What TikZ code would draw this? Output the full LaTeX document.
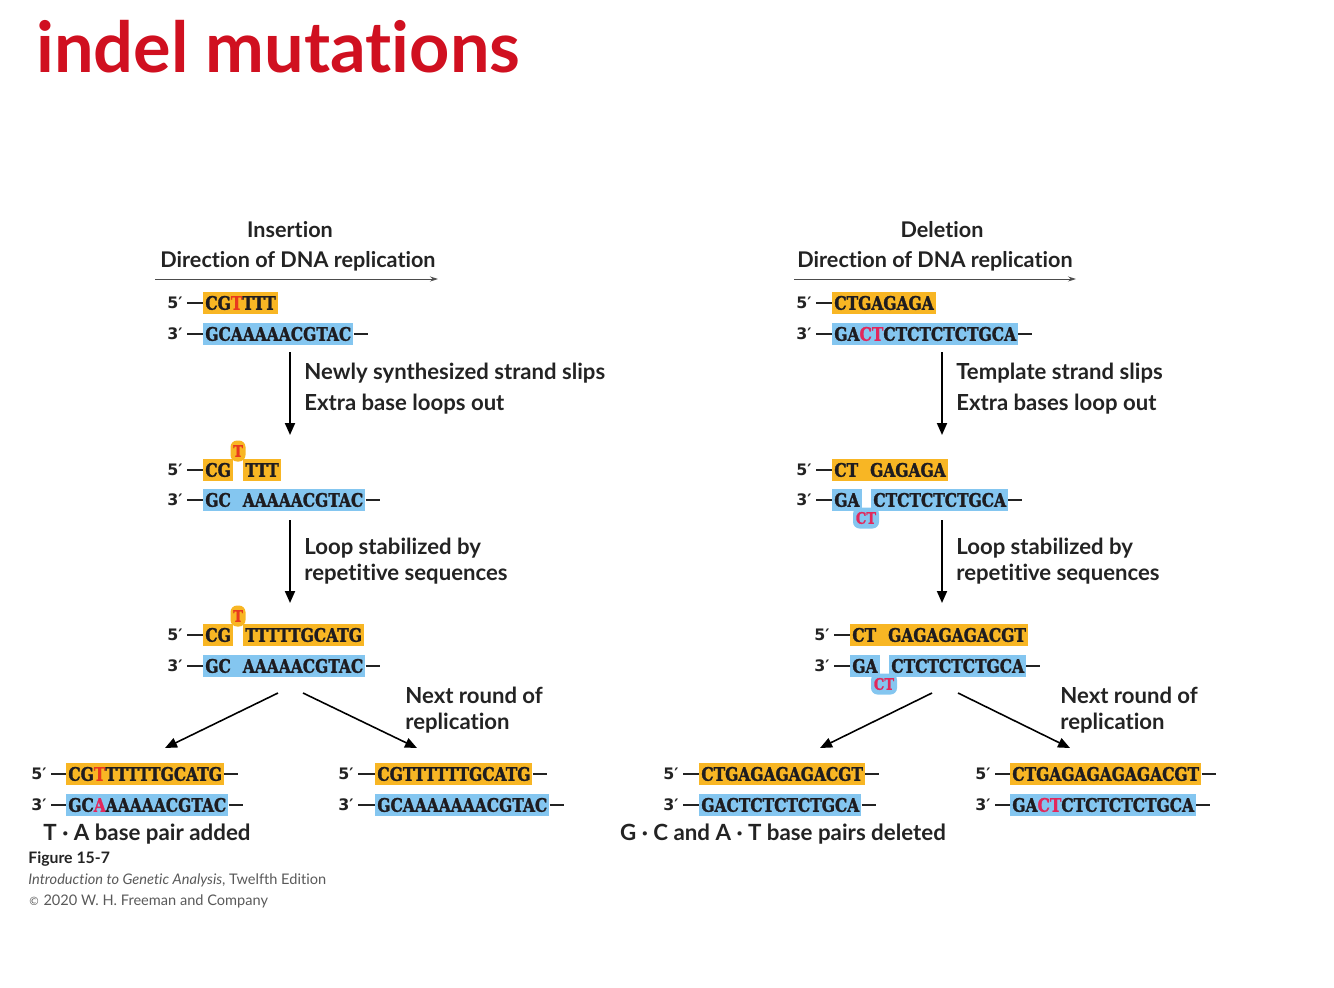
\documentclass[tikz,border=0pt]{standalone}
\usepackage{fontspec}
\setmainfont{Lato}[Ligatures=NoCommon]
\newfontfamily\seqfont{DejaVu Serif}[FakeStretch=0.83, FakeBold=1.5]
\newfontfamily\primefont{DejaVu Sans}
\usetikzlibrary{arrows.meta}

\definecolor{fwdfill}{RGB}{248,182,36}
\definecolor{revfill}{RGB}{132,198,240}
\definecolor{seqink}{RGB}{30,28,32}
\definecolor{insred}{RGB}{232,58,30}
\definecolor{delred}{RGB}{226,40,92}
\definecolor{titlered}{RGB}{208,16,32}
\definecolor{inkgray}{RGB}{35,35,35}

\newcommand{\insbase}[1]{\textcolor{insred}{#1}}
\newcommand{\delbase}[1]{\textcolor{delred}{#1}}

\begin{document}
\begin{tikzpicture}[
      x=0.02cm, y=-0.02cm,
      fwd/.style={anchor=west, fill=fwdfill, inner xsep=0.04cm, inner ysep=0pt, minimum height=0.44cm,
        text height=0.27cm, text depth=0pt, text=seqink, font=\seqfont\bfseries\fontsize{10.6}{12}\selectfont},
      rev/.style={fwd, fill=revfill},
      bulgeF/.style={fill=fwdfill, rounded corners=0.13cm, minimum width=0.3cm, minimum height=0.42cm,
        inner sep=0pt, text=insred, font=\seqfont\bfseries\fontsize{9}{10}\selectfont},
      bulgeR/.style={bulgeF, fill=revfill, text=delred, minimum width=0.52cm},
      endlbl/.style={anchor=east, inner sep=0pt, text=inkgray, font=\primefont\bfseries\fontsize{9}{10}\selectfont},
      tail/.style={line width=0.8pt, inkgray},
      heading/.style={font=\bfseries\fontsize{12.3}{15}\selectfont, text=inkgray},
      note/.style={anchor=west, align=left, inner sep=0pt, text=inkgray, font=\bfseries\fontsize{12.6}{15}\selectfont},
      result/.style={font=\bfseries\fontsize{12.7}{15}\selectfont, text=inkgray},
      dirarrow/.style={-{Stealth[length=0.16cm, width=0.1cm]}, line width=0.5pt, black!70},
      flow/.style={-{Triangle[length=0.24cm, width=0.2cm]}, line width=1.1pt, black}
    ]
    \useasboundingbox (0,0) rectangle (1334,987);

    \node[anchor=west, inner sep=0pt, text=titlered, font=\bfseries\fontsize{40}{44}\selectfont] (title) at (36,47) {indel mutations};

    % insertion column
    \node[heading] (insHead) at (290,230) {Insertion};
    \node[heading] (insDir) at (298,261) {Direction of DNA replication};
    \coordinate (insDirA) at (155,279);
    \coordinate (insDirB) at (438,279);
    \draw[dirarrow] (insDirA) -- (insDirB);

    \node[endlbl] (i1l5) at (183,303) {5′};
    \node[endlbl] (i1l3) at (183,334) {3′};
    \node[fwd] (i1t) at (203,303) {CG\insbase{T}TTT};
    \node[rev] (i1b) at (203,334) {GCAAAAACGTAC};
    \draw[tail] (i1l5.east) ++(4,0) -- (i1t.west);
    \draw[tail] (i1l3.east) ++(4,0) -- (i1b.west);
    \draw[tail] (i1b.east) -- ++(14,0);

    \coordinate (insA1) at (290,352);
    \coordinate (insA2) at (290,435);
    \draw[flow] (insA1) -- (insA2);
    \node[note] (insNote1) at (304,389) {Newly synthesized strand slips\\[2.6pt]Extra base loops out};

    \node[bulgeF] (i2bulge) at (238,451) {T};
    \node[endlbl] (i2l5) at (183,470) {5′};
    \node[endlbl] (i2l3) at (183,500) {3′};
    \node[fwd] (i2ta) at (203,470) {CG};
    \node[fwd] (i2tb) at (243,470) {TTT};
    \node[rev] (i2b) at (203,500) {GC\phantom{A}AAAAACGTAC};
    \draw[tail] (i2l5.east) ++(4,0) -- (i2ta.west);
    \draw[tail] (i2l3.east) ++(4,0) -- (i2b.west);
    \draw[tail] (i2b.east) -- ++(14,0);

    \coordinate (insB1) at (290,520);
    \coordinate (insB2) at (290,603);
    \draw[flow] (insB1) -- (insB2);
    \node[note] (insNote2) at (304,561) {Loop stabilized by\\repetitive sequences};

    \node[bulgeF] (i3bulge) at (238,616) {T};
    \node[endlbl] (i3l5) at (183,635) {5′};
    \node[endlbl] (i3l3) at (183,666) {3′};
    \node[fwd] (i3ta) at (203,635) {CG};
    \node[fwd] (i3tb) at (243,635) {TTTTTGCATG};
    \node[rev] (i3b) at (203,666) {GC\phantom{A}AAAAACGTAC};
    \draw[tail] (i3l5.east) ++(4,0) -- (i3ta.west);
    \draw[tail] (i3l3.east) ++(4,0) -- (i3b.west);
    \draw[tail] (i3b.east) -- ++(14,0);

    \coordinate (insC0) at (278,693);
    \coordinate (insC1) at (165,748);
    \coordinate (insD0) at (303,693);
    \coordinate (insD1) at (417,748);
    \draw[flow, line width=0.9pt] (insC0) -- (insC1);
    \draw[flow, line width=0.9pt] (insD0) -- (insD1);
    \node[note] (insNote3) at (405,710) {Next round of\\replication};

    \node[endlbl] (i4l5) at (47,774) {5′};
    \node[endlbl] (i4l3) at (47,805) {3′};
    \node[fwd] (i4t) at (66,774) {CG\insbase{T}TTTTTGCATG};
    \node[rev] (i4b) at (66,805) {GC\delbase{A}AAAAACGTAC};
    \draw[tail] (i4l5.east) ++(4,0) -- (i4t.west);
    \draw[tail] (i4l3.east) ++(4,0) -- (i4b.west);
    \draw[tail] (i4t.east) -- ++(14,0);
    \draw[tail] (i4b.east) -- ++(14,0);
    \node[result] (insResult) at (147,834) {T · A base pair added};

    \node[endlbl] (i5l5) at (354,774) {5′};
    \node[endlbl] (i5l3) at (354,805) {3′};
    \node[fwd] (i5t) at (375,774) {CGTTTTTTGCATG};
    \node[rev] (i5b) at (375,805) {GCAAAAAAACGTAC};
    \draw[tail] (i5l5.east) ++(4,0) -- (i5t.west);
    \draw[tail] (i5l3.east) ++(4,0) -- (i5b.west);
    \draw[tail] (i5t.east) -- ++(14,0);
    \draw[tail] (i5b.east) -- ++(14,0);

    % deletion column
    \node[heading] (delHead) at (942,230) {Deletion};
    \node[heading] (delDir) at (935,261) {Direction of DNA replication};
    \coordinate (delDirA) at (794,279);
    \coordinate (delDirB) at (1076,279);
    \draw[dirarrow] (delDirA) -- (delDirB);

    \node[endlbl] (d1l5) at (812,303) {5′};
    \node[endlbl] (d1l3) at (812,334) {3′};
    \node[fwd] (d1t) at (832,303) {CTGAGAGA};
    \node[rev] (d1b) at (832,334) {GA\delbase{CT}CTCTCTCTGCA};
    \draw[tail] (d1l5.east) ++(4,0) -- (d1t.west);
    \draw[tail] (d1l3.east) ++(4,0) -- (d1b.west);
    \draw[tail] (d1b.east) -- ++(14,0);

    \coordinate (delA1) at (942,352);
    \coordinate (delA2) at (942,435);
    \draw[flow] (delA1) -- (delA2);
    \node[note] (delNote1) at (956,389) {Template strand slips\\[2.6pt]Extra bases loop out};

    \node[bulgeR] (d2bulge) at (866,518) {CT};
    \node[endlbl] (d2l5) at (812,470) {5′};
    \node[endlbl] (d2l3) at (812,500) {3′};
    \node[fwd] (d2t) at (832,470) {CT\phantom{A}GAGAGA};
    \node[rev] (d2ba) at (832,500) {GA};
    \node[rev] (d2bb) at (871,500) {CTCTCTCTGCA};
    \draw[tail] (d2l5.east) ++(4,0) -- (d2t.west);
    \draw[tail] (d2l3.east) ++(4,0) -- (d2ba.west);
    \draw[tail] (d2bb.east) -- ++(14,0);

    \coordinate (delB1) at (942,520);
    \coordinate (delB2) at (942,603);
    \draw[flow] (delB1) -- (delB2);
    \node[note] (delNote2) at (956,561) {Loop stabilized by\\repetitive sequences};

    \node[bulgeR] (d3bulge) at (884,684) {CT};
    \node[endlbl] (d3l5) at (830,635) {5′};
    \node[endlbl] (d3l3) at (830,666) {3′};
    \node[fwd] (d3t) at (850,635) {CT\phantom{A}GAGAGAGACGT};
    \node[rev] (d3ba) at (850,666) {GA};
    \node[rev] (d3bb) at (889,666) {CTCTCTCTGCA};
    \draw[tail] (d3l5.east) ++(4,0) -- (d3t.west);
    \draw[tail] (d3l3.east) ++(4,0) -- (d3ba.west);
    \draw[tail] (d3bb.east) -- ++(14,0);

    \coordinate (delC0) at (932,693);
    \coordinate (delC1) at (820,748);
    \coordinate (delD0) at (958,693);
    \coordinate (delD1) at (1070,748);
    \draw[flow, line width=0.9pt] (delC0) -- (delC1);
    \draw[flow, line width=0.9pt] (delD0) -- (delD1);
    \node[note] (delNote3) at (1060,710) {Next round of\\replication};

    \node[endlbl] (d4l5) at (679,774) {5′};
    \node[endlbl] (d4l3) at (679,805) {3′};
    \node[fwd] (d4t) at (699,774) {CTGAGAGAGACGT};
    \node[rev] (d4b) at (699,805) {GACTCTCTCTGCA};
    \draw[tail] (d4l5.east) ++(4,0) -- (d4t.west);
    \draw[tail] (d4l3.east) ++(4,0) -- (d4b.west);
    \draw[tail] (d4t.east) -- ++(14,0);
    \draw[tail] (d4b.east) -- ++(14,0);
    \node[result] (delResult) at (783,834) {G · C and A · T base pairs deleted};

    \node[endlbl] (d5l5) at (991,774) {5′};
    \node[endlbl] (d5l3) at (991,805) {3′};
    \node[fwd] (d5t) at (1010,774) {CTGAGAGAGAGACGT};
    \node[rev] (d5b) at (1010,805) {GA\delbase{CT}CTCTCTCTGCA};
    \draw[tail] (d5l5.east) ++(4,0) -- (d5t.west);
    \draw[tail] (d5l3.east) ++(4,0) -- (d5b.west);
    \draw[tail] (d5t.east) -- ++(14,0);
    \draw[tail] (d5b.east) -- ++(14,0);

    % credit lines
    \node[anchor=west, inner sep=0pt, text=inkgray, font=\bfseries\fontsize{9}{10}\selectfont] (figNo) at (28,859) {Figure 15-7};
    \node[anchor=west, inner sep=0pt, text=black!65, font=\fontsize{8.3}{10}\selectfont] (figBook) at (28,880) {\textit{Introduction to Genetic Analysis}, Twelfth Edition};
    \node[anchor=west, inner sep=0pt, text=black!65, font=\fontsize{8.3}{10}\selectfont] (figCopy) at (28,901) {{\primefont\fontsize{6.5}{8}\selectfont ©} 2020 W. H. Freeman and Company};
  \end{tikzpicture}
\end{document}
